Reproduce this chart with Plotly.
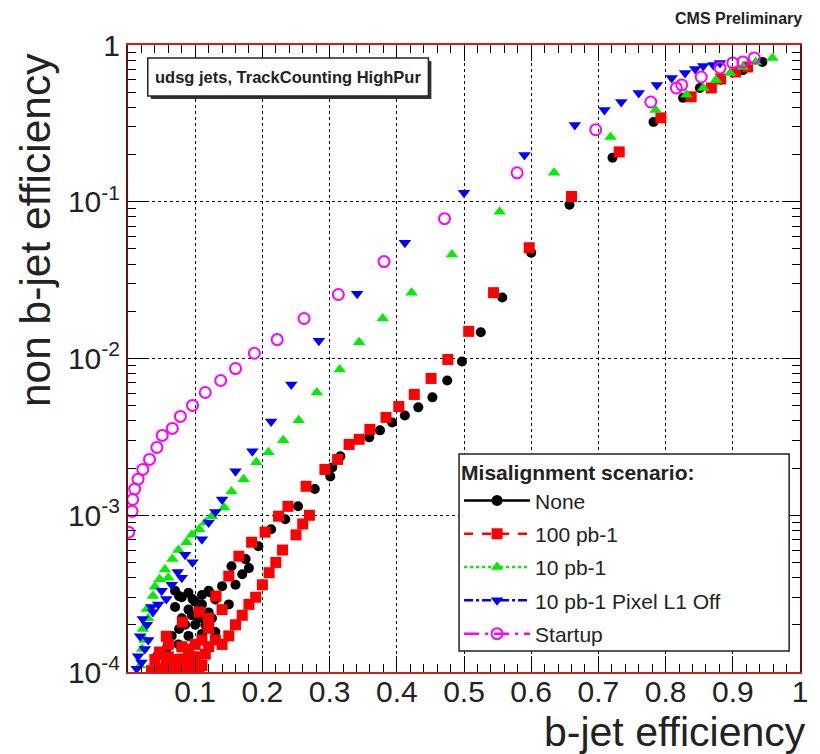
import plotly.graph_objects as go

# ---------------- data (b-jet efficiency, non b-jet efficiency) ----------------
none_x = [0.043, 0.057, 0.065, 0.075, 0.076, 0.07, 0.08, 0.09, 0.10, 0.11, 0.12, 0.13, 0.076, 0.096,
          0.07, 0.08, 0.09, 0.10, 0.11, 0.12, 0.13, 0.085, 0.095, 0.105, 0.115, 0.125, 0.09, 0.11,
          0.13, 0.15, 0.16, 0.17, 0.18,
          0.121, 0.140, 0.154, 0.175, 0.194, 0.213, 0.234, 0.253, 0.278, 0.301, 0.304, 0.316,
          0.359, 0.375, 0.393, 0.412, 0.432, 0.453, 0.475, 0.497, 0.525, 0.557, 0.600, 0.657,
          0.721, 0.782, 0.826, 0.851, 0.882, 0.915, 0.944]
none_y = [1.26e-4, 1.40e-4, 1.7e-4, 1.5e-4, 1.88e-4, 2.6e-4, 2.2e-4, 2.5e-4, 2.0e-4, 2.7e-4, 2.4e-4, 2.9e-4,
          3.05e-4, 2.92e-4,
          3.3e-4, 3.0e-4, 3.2e-4, 2.8e-4, 3.1e-4, 3.3e-4, 3.0e-4, 2.0e-4, 2.3e-4, 2.2e-4, 2.0e-4, 2.2e-4,
          1.7e-4, 1.75e-4, 1.8e-4, 2.7e-4, 3.6e-4, 4.2e-4, 4.6e-4,
          3.23e-4, 3.53e-4, 4.73e-4, 5.25e-4, 6.35e-4, 8.15e-4, 9.44e-4, 1.14e-3,
          1.47e-3, 1.77e-3, 2.02e-3, 2.38e-3, 3.14e-3, 3.48e-3, 3.91e-3, 4.33e-3, 4.88e-3, 5.65e-3,
          7.24e-3, 9.57e-3, 1.47e-2, 2.45e-2, 4.73e-2, 9.57e-2, 0.191, 0.323, 0.460, 0.532, 0.60,
          0.69, 0.78]

pb100_x = [0.05, 0.06, 0.07, 0.08, 0.09, 0.10, 0.11, 0.057, 0.081, 0.047, 0.06, 0.08, 0.10, 0.12, 0.14,
           0.035, 0.045, 0.055, 0.065, 0.075, 0.085, 0.095, 0.105, 0.04, 0.06, 0.07, 0.09, 0.10, 0.115,
           0.13, 0.15, 0.16, 0.17, 0.18, 0.19, 0.20, 0.21, 0.22, 0.23, 0.25, 0.26, 0.27, 0.09, 0.11, 0.12,
           0.057, 0.081, 0.106, 0.12, 0.14, 0.131, 0.150, 0.165, 0.184, 0.204, 0.224, 0.238, 0.265,
           0.293, 0.312, 0.329, 0.344, 0.360, 0.384, 0.403, 0.426, 0.451, 0.476, 0.507, 0.544,
           0.597, 0.660, 0.731, 0.793, 0.838, 0.868, 0.882, 0.904, 0.922]
pb100_y = [1.05e-4, 1.1e-4, 1.05e-4, 1.12e-4, 1.08e-4, 1.15e-4, 1.1e-4, 1.16e-4, 1.21e-4, 1.34e-4,
           1.5e-4, 1.45e-4, 1.5e-4, 1.45e-4, 1.5e-4,
           1.02e-4, 1.0e-4, 1.02e-4, 1.0e-4, 1.02e-4, 1.0e-4, 1.03e-4, 1.0e-4, 1.2e-4, 1.25e-4, 1.2e-4,
           1.22e-4, 1.25e-4, 1.3e-4, 1.6e-4, 1.7e-4, 2.0e-4, 2.3e-4, 2.7e-4, 3.0e-4, 3.6e-4, 4.3e-4,
           5.0e-4, 6.0e-4, 7.5e-4, 8.8e-4, 1.0e-3, 1.4e-4, 1.6e-4, 1.9e-4,
           1.69e-4, 2.08e-4, 2.41e-4, 2.2e-4, 2.5e-4,
           3.05e-4, 4.09e-4, 5.48e-4, 6.73e-4, 7.80e-4, 9.86e-4, 1.14e-3, 1.53e-3, 1.96e-3, 2.27e-3,
           2.83e-3, 3.05e-3, 3.53e-3, 4.21e-3, 4.94e-3, 5.90e-3, 7.46e-3, 9.86e-3, 1.49e-2, 2.63e-2,
           5.09e-2, 0.108, 0.208, 0.343, 0.467, 0.532, 0.607, 0.673, 0.724]

pb10_x = [0.018, 0.025, 0.03, 0.04, 0.055, 0.06, 0.075, 0.095, 0.115,
          0.021, 0.022, 0.028, 0.037, 0.047, 0.066, 0.087, 0.106, 0.125, 0.143, 0.154, 0.172, 0.191,
          0.209, 0.231, 0.254, 0.281, 0.315, 0.344, 0.379, 0.422, 0.482, 0.553, 0.634, 0.718,
          0.785, 0.831, 0.856, 0.875, 0.896, 0.915, 0.934, 0.959]
pb10_y = [1.1e-4, 1.6e-4, 2.2e-4, 3.5e-4, 4.5e-4, 4.0e-4, 6.0e-4, 7.5e-4, 9.0e-4,
          1.40e-4, 1.88e-4, 2.52e-4, 3.05e-4, 3.91e-4, 5.25e-4, 6.73e-4, 8.15e-4, 9.86e-4, 1.12e-3,
          1.42e-3, 1.70e-3, 2.18e-3, 2.52e-3, 3.01e-3, 4.03e-3, 6.07e-3, 8.51e-3, 1.27e-2, 1.80e-2,
          2.63e-2, 4.60e-2, 8.63e-2, 0.153, 0.259, 0.385, 0.481, 0.532, 0.598, 0.663, 0.724, 0.780,
          0.827]

pixoff_x = [0.013, 0.02, 0.025, 0.03, 0.028, 0.035, 0.045, 0.05, 0.065, 0.08, 0.085, 0.12, 0.13,
            0.015, 0.018, 0.022, 0.037, 0.057, 0.074, 0.096, 0.110, 0.140, 0.160, 0.185, 0.213, 0.243,
            0.284, 0.341, 0.412, 0.500, 0.590, 0.665, 0.709, 0.734, 0.760, 0.787, 0.809, 0.829,
            0.844, 0.856, 0.871, 0.881]
pixoff_y = [1.05e-4, 1.15e-4, 1.4e-4, 1.6e-4, 2.0e-4, 2.6e-4, 2.7e-4, 3.3e-4, 3.6e-4, 4.0e-4, 5.6e-4,
            9.0e-4, 1.05e-3,
            1.26e-4, 1.69e-4, 2.18e-4, 2.41e-4, 2.92e-4, 4.34e-4, 5.02e-4, 7.03e-4, 1.26e-3, 1.91e-3,
            2.56e-3, 3.97e-3, 6.83e-3, 1.30e-2, 2.59e-2, 5.48e-2, 0.114, 0.199, 0.309, 0.385, 0.433,
            0.494, 0.556, 0.616, 0.663, 0.703, 0.735, 0.746, 0.768]

startup_x = [0.001, 0.006, 0.007, 0.010, 0.015, 0.022, 0.032, 0.043, 0.051, 0.066, 0.078, 0.096, 0.115,
             0.138, 0.160, 0.188, 0.222, 0.262, 0.313, 0.381, 0.471, 0.579, 0.696, 0.778, 0.816,
             0.824, 0.853, 0.881, 0.900, 0.915, 0.932]
startup_y = [7.8e-4, 1.06e-3, 1.26e-3, 1.47e-3, 1.70e-3, 1.96e-3, 2.27e-3, 2.71e-3, 3.23e-3, 3.58e-3,
             4.27e-3, 5.02e-3, 6.07e-3, 7.24e-3, 8.63e-3, 1.08e-2, 1.32e-2, 1.80e-2, 2.56e-2, 4.15e-2,
             7.80e-2, 0.153, 0.288, 0.433, 0.532, 0.556, 0.625, 0.714, 0.768, 0.780, 0.827]

series_names = ["None", "100 pb-1", "10 pb-1", "10 pb-1 Pixel L1 Off", "Startup"]
series_x = [none_x, pb100_x, pb10_x, pixoff_x, startup_x]
series_y = [none_y, pb100_y, pb10_y, pixoff_y, startup_y]
colors = ["black", "#ff0000", "#00ee00", "#0000ff", "#ff00ff"]
symbols = ["circle", "square", "triangle-up", "triangle-down", "circle-open"]
dashes = ["solid", "dash", "dot", "dashdot", "longdashdot"]
sizes = [10, 11, 11, 11, 11]

x_ticks = [0.1, 0.2, 0.3, 0.4, 0.5, 0.6, 0.7, 0.8, 0.9, 1.0]
x_ticktext = ["0.1", "0.2", "0.3", "0.4", "0.5", "0.6", "0.7", "0.8", "0.9", "1"]
y_ticks = [1e-4, 1e-3, 1e-2, 1e-1, 1]
y_ticktext = ["10<sup>-4</sup>", "10<sup>-3</sup>", "10<sup>-2</sup>", "10<sup>-1</sup>", "1"]

FONT = "Liberation Sans, Arial, sans-serif"
TXT = "#222"

fig = go.Figure()
for nm, xs, ys, c, s, sz in zip(series_names, series_x, series_y, colors, symbols, sizes):
    fig.add_trace(go.Scatter(
        x=xs, y=ys, mode="markers", showlegend=False,
        marker=dict(color=c, symbol=s, size=sz,
                    line=dict(color=c, width=2 if s == "circle-open" else 0)),
    ))
# legend samples
for i, (nm, c, s, d) in enumerate(zip(series_names, colors, symbols, dashes)):
    fig.add_trace(go.Scatter(
        x=[None], y=[None], mode="lines+markers", name=nm, legendgroup=str(i),
        line=dict(color=c, dash=d, width=2.5),
        marker=dict(color=c, symbol=s, size=11, line=dict(color=c, width=2 if s == "circle-open" else 0)),
    ))

L, R, T, B = 128, 12, 45, 82
W, H = 820, 754
pw, ph = W - L - R, H - T - B

def px2paper(x, y):
    return (x - L) / pw, (H - B - y) / ph

fig.update_layout(
    width=W, height=H,
    margin=dict(l=L, r=R, t=T, b=B),
    paper_bgcolor="white", plot_bgcolor="white",
    font=dict(family=FONT, color="black"),
    showlegend=True,
    legend=dict(
        x=px2paper(463, 0)[0], y=px2paper(0, 453)[1], xanchor="left", yanchor="top",
        bgcolor="rgba(0,0,0,0)", borderwidth=0,
        font=dict(size=21, family=FONT, color=TXT),
        title=dict(text="<b>Misalignment scenario:</b>",
                   font=dict(size=21, family=FONT, color=TXT)),
        itemwidth=66, traceorder="grouped", tracegroupgap=3,
    ),
)

# legend frame (box behind the legend)
lx0, ly0 = px2paper(463, 651)
lx1, ly1 = px2paper(797, 454)
fig.add_shape(type="rect", xref="paper", yref="paper", x0=lx0, y0=ly0, x1=lx1, y1=ly1,
              fillcolor="white", line=dict(color="#222", width=1.5), layer="above")

fig.update_xaxes(
    range=[0, 1], tickvals=x_ticks, ticktext=x_ticktext,
    ticks="inside", ticklen=16, tickcolor="black", tickwidth=1,
    minor=dict(ticks="inside", ticklen=8, dtick=0.02, tickcolor="black", showgrid=False),
    showgrid=True, gridcolor="black", griddash="dot", gridwidth=1,
    showline=True, linecolor="#cc2020", linewidth=2, mirror="allticks",
    tickfont=dict(size=30, family=FONT, color=TXT), zeroline=False, ticklabelstandoff=-8,
)
fig.update_yaxes(
    type="log", range=[-4, 0], tickvals=y_ticks, ticktext=y_ticktext,
    ticks="inside", ticklen=18, tickcolor="black", tickwidth=1,
    minor=dict(ticks="inside", ticklen=8, dtick="D1", tickcolor="black", showgrid=False),
    showgrid=True, gridcolor="black", griddash="dot", gridwidth=1,
    showline=True, linecolor="#6a1010", linewidth=2, mirror="allticks",
    tickfont=dict(size=30, family=FONT, color=TXT), zeroline=False,
)

# title box with shadow
bx0, by0 = px2paper(148, 96)
bx1, by1 = px2paper(432, 58)
sx0, sy0 = px2paper(151, 99)
sx1, sy1 = px2paper(435, 61)
fig.add_shape(type="rect", xref="paper", yref="paper", x0=sx0, y0=sy0, x1=sx1, y1=sy1,
              fillcolor="#333", line=dict(width=0), layer="above")
fig.add_shape(type="rect", xref="paper", yref="paper", x0=bx0, y0=by0, x1=bx1, y1=by1,
              fillcolor="white", line=dict(color=TXT, width=1.5), layer="above")
fig.add_annotation(xref="paper", yref="paper", x=(bx0 + bx1) / 2, y=(by0 + by1) / 2,
                   text="<b>udsg jets, TrackCounting HighPur</b>", showarrow=False,
                   font=dict(size=16.5, family=FONT, color=TXT), xanchor="center", yanchor="middle")

# CMS Preliminary
fig.add_annotation(xref="paper", yref="paper", x=px2paper(812, 0)[0], y=px2paper(0, 18)[1],
                   text="<b>CMS Preliminary</b>", showarrow=False,
                   font=dict(size=16, family=FONT, color=TXT), xanchor="right", yanchor="middle")

# axis titles
fig.add_annotation(xref="paper", yref="paper", x=px2paper(816, 0)[0], y=px2paper(0, 732)[1],
                   text="b-jet efficiency", showarrow=False,
                   font=dict(size=41, family=FONT, color=TXT), xanchor="right", yanchor="middle")
fig.add_annotation(xref="paper", yref="paper", x=px2paper(34, 0)[0], y=px2paper(0, 51)[1],
                   text="non b-jet efficiency", showarrow=False, textangle=-90,
                   font=dict(size=42.5, family=FONT, color=TXT), xanchor="center", yanchor="top")

fig.write_html("out.html")
